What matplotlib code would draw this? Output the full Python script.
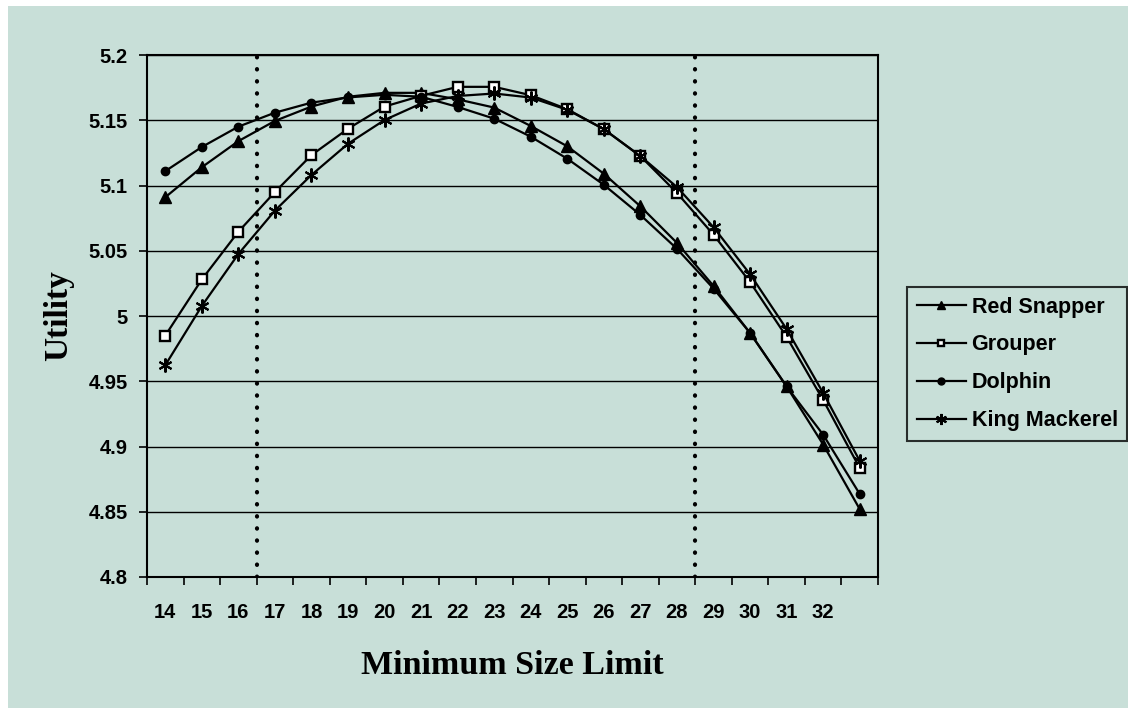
import numpy as np
import matplotlib
matplotlib.use("Agg")
import matplotlib.pyplot as plt
from matplotlib.patches import Rectangle

# category labels (last category carries no label in the original)
sizes = ['14', '15', '16', '17', '18', '19', '20', '21', '22', '23',
         '24', '25', '26', '27', '28', '29', '30', '31', '32', '']

red_snapper = [5.091, 5.114, 5.134, 5.1495, 5.1605, 5.168, 5.171, 5.171, 5.166, 5.1597,
               5.1456, 5.130, 5.109, 5.084, 5.056, 5.023, 4.987, 4.946, 4.9015, 4.852]
grouper = [4.985, 5.028, 5.0646, 5.095, 5.1233, 5.1435, 5.1605, 5.1687, 5.1756, 5.1756,
           5.1692, 5.1585, 5.1431, 5.1225, 5.0943, 5.0623, 5.026, 4.984, 4.9356, 4.8835]
dolphin = [5.111, 5.1295, 5.1451, 5.1558, 5.1635, 5.1675, 5.1695, 5.168, 5.1602, 5.1512,
           5.1374, 5.1205, 5.1005, 5.0774, 5.0515, 5.021, 4.987, 4.946, 4.909, 4.8636]
king_mackerel = [4.9623, 5.0077, 5.0475, 5.0808, 5.1081, 5.132, 5.1502, 5.1628, 5.1686, 5.1705,
                 5.1674, 5.158, 5.1432, 5.1225, 5.0988, 5.068, 5.032, 4.990, 4.941, 4.889]

# vertical reference lines sit on category boundaries (between 16|17 and 28|29)
ref_bounds = [2.5, 14.5]

bg = '#C8DFD8'
plt.rcParams['font.family'] = ['Liberation Sans', 'DejaVu Sans']

fig = plt.figure(figsize=(11.28, 7.08), dpi=100, facecolor='white')
# chart area background, leaving thin white strip at left and top
fig.patches.append(Rectangle((8 / 1128, 0), 1, 1 - 6 / 708, transform=fig.transFigure,
                             facecolor=bg, edgecolor='none', zorder=-10))

ax = fig.add_axes([147 / 1128, 1 - 577 / 708, (878 - 147) / 1128, (577 - 55) / 708])
ax.set_facecolor(bg)

x = np.arange(len(sizes))

ax.set_ylim(4.8, 5.2)
ax.set_yticks(np.arange(4.8, 5.2001, 0.05))
ax.set_yticklabels(['4.8', '4.85', '4.9', '4.95', '5', '5.05', '5.1', '5.15', '5.2'],
                   fontsize=14.5, fontweight='bold')
ax.grid(axis='y', color='black', lw=1)
ax.set_axisbelow(True)

ax.set_xlim(-0.5, len(sizes) - 0.5)
ax.set_xticks(np.arange(-0.5, len(sizes), 1.0))
ax.set_xticklabels([])
ax.set_xticks(x, minor=True)
ax.set_xticklabels(sizes, minor=True, fontsize=14.5, fontweight='bold')
ax.tick_params(axis='x', which='minor', length=0, pad=19)
ax.tick_params(axis='both', which='major', direction='out', length=6, width=1.2, color='black')
ax.tick_params(axis='y', pad=8)

for s in ax.spines.values():
    s.set_color('black')
    s.set_linewidth(1.5)

for b in ref_bounds:
    ax.axvline(b, color='black', lw=3, linestyle=(0, (0.1, 2.8)),
               dash_capstyle='round', zorder=1.5)

kw = dict(color='black', lw=1.6, markeredgecolor='black', zorder=3)
ax.plot(x, red_snapper, marker='^', markersize=8, markerfacecolor='black', label='Red Snapper', **kw)
ax.plot(x, grouper, marker='s', markersize=6.5, markerfacecolor='white', markeredgewidth=1.7,
        label='Grouper', **kw)
ax.plot(x, dolphin, marker='o', markersize=6, markerfacecolor='black', label='Dolphin', **kw)
ax.plot(x, king_mackerel, marker=(6, 2, 0), markersize=10, markeredgewidth=1.5,
        label='King Mackerel', **kw)

ax.set_ylabel('Utility', family='Liberation Serif', fontsize=24, fontweight='bold', labelpad=10)
ax.set_xlabel('Minimum Size Limit', family='Liberation Serif', fontsize=24.5, fontweight='bold',
              labelpad=20)

leg = fig.legend(loc='upper left', bbox_to_anchor=(907 / 1128, 1 - 287 / 708),
                 frameon=True, fancybox=False, edgecolor='black', facecolor=bg,
                 prop={'size': 15.5, 'weight': 'bold'}, handlelength=2.3,
                 handletextpad=0.25, labelspacing=0.78, borderpad=0.45, borderaxespad=0)
leg.get_frame().set_linewidth(1.5)
for h, ms in zip(leg.legend_handles, [6, 5, 5, 8]):
    h.set_markersize(ms)

fig.savefig('out.png', dpi=100, facecolor='white')
